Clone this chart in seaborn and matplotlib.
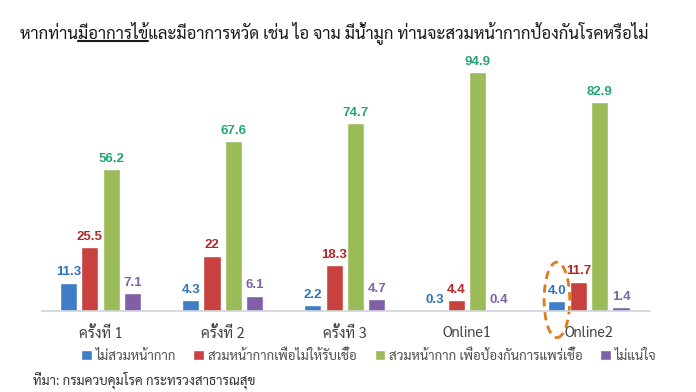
import matplotlib
matplotlib.use("Agg")
import pandas as pd
import matplotlib.pyplot as plt
import seaborn as sns
from matplotlib.patches import Ellipse
from matplotlib.lines import Line2D

sns.set_style("white")
plt.rcParams['font.family'] = ['Sarabun', 'DejaVu Sans']

# data
rounds = ["ครั้งที่ 1", "ครั้งที่ 2", "ครั้งที่ 3", "Online1", "Online2"]
answers = ["ไม่สวมหน้ากาก", "สวมหน้ากากเพื่อไม่ให้รับเชื้อ",
           "สวมหน้ากาก เพื่อป้องกันการแพร่เชื้อ", "ไม่แน่ใจ"]
no_mask = [11.3, 4.3, 2.2, 0.3, 4.0]
mask_protect = [25.5, 22, 18.3, 4.4, 11.7]
mask_spread = [56.2, 67.6, 74.7, 94.9, 82.9]
not_sure = [7.1, 6.1, 4.7, 0.4, 1.4]

bar_colors = ["#3F7EC7", "#C8413F", "#9BBB59", "#7F60A8"]
label_colors = ["#2E74B8", "#B0272C", "#24A574", "#7D63A8"]

title_pre = "หากท่าน"
title_ul = "มีอาการไข้"
title_post = "และมีอาการหวัด เช่น ไอ จาม มีน้ำมูก ท่านจะสวมหน้ากากป้องกันโรคหรือไม่"
source = "ที่มา: กรมควบคุมโรค กระทรวงสาธารณสุข"
TITLE_SIZE = 12

series = [no_mask, mask_protect, mask_spread, not_sure]
df = pd.DataFrame({"round": rounds * len(answers),
                   "answer": [a for a in answers for _ in rounds],
                   "pct": sum(series, [])})

fig = plt.figure(figsize=(6.96, 3.92), dpi=100)
ax = fig.add_axes([42/696, 1 - 311/392, 608/696, 256/392])
sns.barplot(data=df, x="round", y="pct", hue="answer", palette=bar_colors,
            width=0.7, gap=0.2, saturation=1, ax=ax)

for cont, vals, col in zip(ax.containers, series, label_colors):
    ax.bar_label(cont, labels=[str(v) for v in vals], padding=3, color=col,
                 fontsize=9.5, fontweight="bold", family=["Liberation Sans"])

ax.set_xlim(-0.48, 4.5)
ax.set_ylim(0, 101.6)
ax.set(xlabel="", ylabel="", yticks=[])
for s in ["top", "right", "left"]:
    ax.spines[s].set_visible(False)
ax.spines["bottom"].set_color("#CFD3DA")
ax.spines["bottom"].set_linewidth(1.2)
ax.tick_params(axis="x", length=0, pad=11, labelsize=10.5, labelcolor="#404040")

sns.move_legend(ax, "center", bbox_to_anchor=(0.53, 1 - 356/392),
                bbox_transform=fig.transFigure, ncol=4, frameon=False,
                fontsize=9.5, handlelength=0.8, handleheight=0.8,
                handletextpad=0.3, columnspacing=1.3, title=None)
for t in ax.get_legend().get_texts():
    t.set_color("#505050")

# dashed ring around the Online2 "no mask" bar
hl = ax.containers[0][4]
ax.add_patch(Ellipse((hl.get_x() + hl.get_width()/2, 4.4), width=0.21, height=30,
                     fill=False, ec="#E07B1A", lw=2, ls=(0, (3, 2)), clip_on=False))

title = fig.text(20/696, 1 - 33/392, title_pre + title_ul + title_post,
                 fontsize=TITLE_SIZE, va="center", color="#1A1A1A")
fig.text(33/696, 1 - 380/392, source, fontsize=9.5, va="center", color="#333333")

# underline the highlighted words in the title
fig.canvas.draw()
r = fig.canvas.get_renderer()
def text_width(s):
    t = fig.text(0, 0, s, fontsize=TITLE_SIZE)
    w = t.get_window_extent(r).width
    t.remove()
    return w
x0 = title.get_window_extent(r).x0
u0 = (x0 + text_width(title_pre)) / fig.bbox.width
u1 = (x0 + text_width(title_pre + title_ul)) / fig.bbox.width
fig.add_artist(Line2D([u0, u1], [1 - 41/392] * 2, color="#1A1A1A", lw=1.5))

fig.savefig("out.png", dpi=100)
